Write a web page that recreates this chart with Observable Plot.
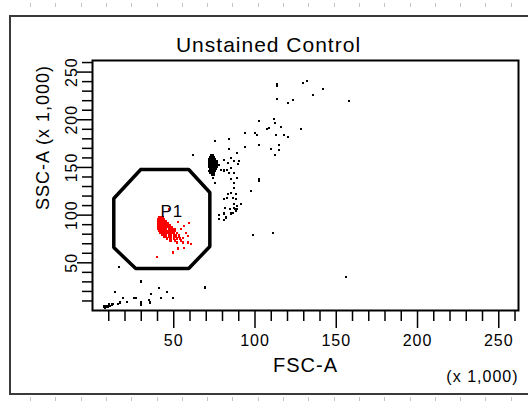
<!DOCTYPE html>
<html><head><meta charset="utf-8">
<script src="https://cdn.jsdelivr.net/npm/d3@7"></script>
<script src="https://cdn.jsdelivr.net/npm/@observablehq/plot@0.6"></script>
<style>
html,body{margin:0;padding:0;background:#fff;width:528px;height:401px;overflow:hidden;}
#wrap{position:relative;width:528px;height:401px;}
#chart{position:absolute;left:0;top:0;}
#frame{position:absolute;left:9px;top:15px;width:540px;height:380px;border:2px solid #3a3a3a;box-sizing:border-box;z-index:2;pointer-events:none;}
.ruler{position:absolute;left:30px;width:500px;height:4px;z-index:2;
  background:repeating-linear-gradient(90deg,#c4c4c4 0 1px,transparent 1px 25.3px);}
#chart svg text{letter-spacing:1px;}
</style></head>
<body><div id="wrap"><div class="ruler" style="top:3px"></div><div id="frame"></div><div id="chart"></div><div class="ruler" style="top:397px"></div></div>
<script>
const titleText = "Unstained Control";
const xLabel = "FSC-A";
const xUnit = "(x 1,000)";
const yLabel = "SSC-A (x 1,000)";
const gateName = "P1";

const xMajor = [50, 100, 150, 200, 250];
const xMinor = [10,20,30,40,60,70,80,90,110,120,130,140,160,170,180,190,210,220,230,240,260];
const yMajor = [50, 100, 150, 200, 250];
const yMinor = [10,20,30,40,60,70,80,90,110,120,130,140,160,170,180,190,210,220,230,240,260];

// P1 gate vertices (x 1,000)
const gate = [[29.7,147.8],[59.2,147.8],[72.2,123.7],[72.2,67.1],[59.2,44.0],[26.6,44.0],[13.1,66.0],[13.1,117.4],[29.7,147.8]];
const p1Label = [[48.8,103.8]];

// events inside P1 (red)
const redPoints = [
 [40.8,98.5],[42.0,98.5],[43.2,98.5],
 [40.2,96.4],[41.5,96.4],[42.8,96.4],[44.0,96.4],
 [40.2,94.3],[41.5,94.3],[42.8,94.3],[44.0,94.3],[45.3,94.3],
 [40.2,92.2],[41.5,92.2],[42.8,92.2],[44.0,92.2],[45.3,92.2],[46.5,92.2],
 [40.2,90.1],[41.5,90.1],[42.8,90.1],[44.0,90.1],[45.3,90.1],[46.5,90.1],[47.7,90.1],
 [40.2,88.0],[41.5,88.0],[42.8,88.0],[44.0,88.0],[45.3,88.0],[46.5,88.0],[47.7,88.0],[49.0,88.0],
 [40.5,85.9],[41.8,85.9],[43.0,85.9],[44.3,85.9],[45.5,85.9],[46.8,85.9],[48.0,85.9],[49.3,85.9],[50.5,85.9],
 [40.8,83.8],[42.0,83.8],[43.3,83.8],[44.5,83.8],[45.8,83.8],[47.0,83.8],[48.3,83.8],[49.5,83.8],[51.0,83.8],
 [41.5,81.7],[42.8,81.7],[44.0,81.7],[45.3,81.7],[46.5,81.7],[47.8,81.7],[49.0,81.7],[50.3,81.7],[52.0,81.7],
 [42.5,79.6],[44.0,79.6],[45.5,79.6],[47.0,79.6],[48.5,79.6],[50.0,79.6],[51.5,79.6],[53.0,79.6],
 [44.0,77.6],[45.5,77.6],[47.0,77.6],[48.5,77.6],[50.0,77.6],[51.5,77.6],[53.5,77.6],
 [46.0,75.5],[48.0,75.5],[50.0,75.5],[52.0,75.5],[54.0,75.5],
 [48.0,73.4],[51.0,73.4],[54.3,73.4],
 [52.0,71.3],[55.5,71.3],
 [47.2,106.9],[52.5,93.3],[59.2,92.2],[56.2,89.1],[54.3,85.9],[57.4,81.7],[58.6,78.6],[55.5,76.5],
 [50.0,76.5],[58.6,71.3],[60.5,70.2],[52.5,65.0],[56.2,66.0],[49.4,60.8],[39.5,56.6]
];

// other events (black)
const blackPoints = [
 [113.4,235.8],[113.4,237.9],[129.4,239.0],[131.8,241.0],[141.7,232.7],[135.5,226.4],[157.7,220.1],
 [113.4,222.2],[123.2,221.1],[120.2,218.0],[102.3,199.1],[111.5,201.2],[112.1,197.0],[108.5,191.8],
 [107.2,190.7],[115.8,192.8],[128.2,190.7],[93.7,186.5],[99.8,186.5],[101.1,184.4],[112.8,184.4],
 [117.7,184.4],[120.2,182.4],[84.0,180.3],[75.2,178.2],[102.3,174.0],[93.7,171.9],[114.6,174.0],
 [109.7,169.8],[114.6,168.7],[112.1,163.5],[84.0,169.8],[88.8,165.6],[61.7,163.5],
 [72.8,163.5],[74.0,163.5],
 [72.2,161.4],[73.4,161.4],[74.6,161.4],
 [71.5,159.3],[72.8,159.3],[74.0,159.3],[75.2,159.3],
 [71.5,157.2],[72.8,157.2],[74.0,157.2],[75.2,157.2],[76.5,157.2],
 [71.5,155.1],[72.8,155.1],[74.0,155.1],[75.2,155.1],[76.5,155.1],
 [71.5,153.0],[72.8,153.0],[74.0,153.0],[75.2,153.0],[76.5,153.0],[77.7,153.0],
 [71.5,150.9],[72.8,150.9],[74.0,150.9],[75.2,150.9],[76.5,150.9],
 [72.2,148.8],[73.4,148.8],[74.6,148.8],[75.8,148.8],
 [71.5,146.7],[72.8,146.7],[74.0,146.7],[75.2,146.7],
 [72.2,144.6],[73.4,144.6],[74.6,144.6],
 [73.4,142.5],[74.6,142.5],
 [80.8,158.3],[85.1,160.3],[83.2,155.1],[86.9,157.2],[89.4,154.1],[90.0,157.2],[85.1,149.9],
 [80.8,146.7],[84.0,144.6],[86.9,144.6],[88.8,139.4],[85.1,138.3],[75.2,134.1],[86.9,134.1],
 [86.9,128.9],[102.3,138.3],[102.3,136.2],[97.4,125.8],[79.0,147.8],[80.8,147.8],[82.6,147.8],[74.0,139.4],
 [83.2,122.6],[85.1,123.7],[88.2,122.6],[82.6,118.4],[80.8,117.4],[86.3,118.4],[88.2,117.4],
 [91.2,112.1],[86.9,112.1],[88.8,110.0],[86.9,107.9],[84.5,106.9],[81.4,107.9],[88.2,104.8],
 [86.3,102.7],[85.1,101.7],[80.8,101.7],[77.7,100.6],[77.7,96.4],[82.0,97.5],[80.8,95.4],
 [87.6,106.9],[88.8,106.9],[98.6,79.6],[110.9,81.7],
 [155.8,35.6],[69.1,24.1],[16.2,46.1],[29.7,30.4],[40.8,23.1],[45.7,19.9],[35.8,16.8],[42.0,13.6],
 [49.4,13.6],[13.7,18.9],[18.6,13.6],[25.4,13.6],[26.6,13.6],[21.1,9.4],[29.7,9.4],[29.7,6.3],
 [34.6,11.5],[35.2,8.4],[16.8,8.4],[15.5,7.3],[12.5,7.3],[8.2,5.2],[6.9,4.2],[8.2,4.2],[9.4,4.2],
 [10.6,5.2],[11.8,6.3],[7.5,3.1],[10.0,6.3]
];

const FONT = "'Liberation Sans', Arial, sans-serif";
const chart = Plot.plot({
  width: 528, height: 401,
  marginLeft: 92, marginRight: 10, marginTop: 60, marginBottom: 91,
  style: {background: "transparent", fontFamily: FONT, fontSize: "16px", color: "#000"},
  x: {domain: [0, 262.144], axis: null},
  y: {domain: [0, 262.144], axis: null},
  marks: [
    Plot.dot(blackPoints, {x: d => d[0], y: d => d[1], symbol: "square", r: 1.15, fill: "#000", stroke: null, shapeRendering: "crispEdges"}),
    Plot.line(gate, {x: d => d[0], y: d => d[1], stroke: "#000", strokeWidth: 3.5, strokeLinejoin: "miter"}),
    Plot.dot(redPoints, {x: d => d[0], y: d => d[1], symbol: "square", r: 1.15, fill: "#ff0000", stroke: null, shapeRendering: "crispEdges"}),
    Plot.text(p1Label, {x: d => d[0], y: d => d[1], text: () => gateName, fontSize: 17, fill: "#000"}),
    Plot.frame({stroke: "#000", strokeWidth: 2}),
    Plot.axisX({ticks: xMinor, anchor: "bottom", tickSize: 11, tickFormat: () => "", label: null, strokeWidth: 1.5}),
    Plot.axisX({ticks: xMajor, anchor: "bottom", tickSize: 18, tickPadding: 6, tickFormat: d => String(d), label: null, strokeWidth: 1.5, fontSize: 16}),
    Plot.axisY({ticks: yMinor, anchor: "left", tickSize: 10, tickFormat: () => "", label: null, strokeWidth: 1.5}),
    Plot.axisY({ticks: yMajor, anchor: "left", tickSize: 15, tickFormat: () => "", label: null, strokeWidth: 1.5}),
    Plot.text(yMajor, {y: d => d, text: d => String(d), frameAnchor: "left", textAnchor: "middle", lineAnchor: "middle", dx: -21, rotate: -90, fontSize: 16}),
    Plot.text([titleText], {text: d => d, frameAnchor: "top", textAnchor: "middle", lineAnchor: "middle", dx: -37, dy: -15, fontSize: 21}),
    Plot.text([xLabel], {text: d => d, frameAnchor: "bottom", textAnchor: "middle", lineAnchor: "middle", dy: 55, fontSize: 20}),
    Plot.text([xUnit], {text: d => d, frameAnchor: "bottom-right", textAnchor: "end", lineAnchor: "middle", dy: 66, fontSize: 16}),
    Plot.text([yLabel], {text: d => d, frameAnchor: "top-left", textAnchor: "middle", lineAnchor: "middle", rotate: -90, dx: -49, dy: 77, fontSize: 18})
  ]
});
document.getElementById("chart").appendChild(chart);
</script>
</body></html>
